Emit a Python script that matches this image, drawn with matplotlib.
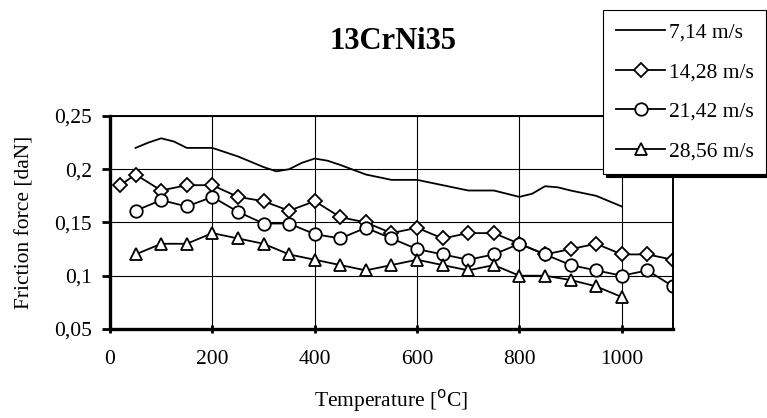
import matplotlib
matplotlib.use('Agg')
import matplotlib.pyplot as plt
from matplotlib.ticker import FuncFormatter

plt.rcParams['font.family'] = ['Liberation Serif', 'DejaVu Serif']

# Datos
temp_1 = [50, 75, 100, 125, 150, 200, 250, 300, 325, 350, 375, 400, 425, 450, 500,
          550, 600, 650, 700, 750, 775, 800, 825, 850, 875, 900, 950, 1000]
fuerza_1 = [0.22, 0.225, 0.229, 0.226, 0.22, 0.22, 0.212, 0.202, 0.198, 0.2, 0.206,
            0.21, 0.208, 0.204, 0.195, 0.19, 0.19, 0.185, 0.18, 0.18, 0.177, 0.174,
            0.177, 0.184, 0.183, 0.18, 0.175, 0.165]

temp_2 = [20, 50, 100, 150, 200, 250, 300, 350, 400, 450, 500, 550, 600, 650, 700,
          750, 800, 850, 900, 950, 1000, 1050, 1100]
fuerza_2 = [0.185, 0.195, 0.18, 0.185, 0.185, 0.174, 0.17, 0.161, 0.17, 0.155, 0.15,
            0.14, 0.145, 0.135, 0.14, 0.14, 0.13, 0.12, 0.125, 0.13, 0.12, 0.12, 0.115]

temp_3 = [50, 100, 150, 200, 250, 300, 350, 400, 450, 500, 550, 600, 650, 700, 750,
          800, 850, 900, 950, 1000, 1050, 1100]
fuerza_3 = [0.161, 0.171, 0.165, 0.174, 0.16, 0.149, 0.149, 0.139, 0.135, 0.145, 0.135,
            0.125, 0.12, 0.115, 0.12, 0.13, 0.12, 0.11, 0.105, 0.1, 0.105, 0.09]

temp_4 = [50, 100, 150, 200, 250, 300, 350, 400, 450, 500, 550, 600, 650, 700, 750,
          800, 850, 900, 950, 1000]
fuerza_4 = [0.12, 0.13, 0.13, 0.14, 0.135, 0.13, 0.12, 0.115, 0.11, 0.105, 0.11, 0.115,
            0.11, 0.105, 0.11, 0.1, 0.1, 0.096, 0.09, 0.08]

etiquetas = ['7,14 m/s', '14,28 m/s', '21,42 m/s', '28,56 m/s']

fig = plt.figure(figsize=(7.67, 4.18), dpi=100)
ax = fig.add_axes([0.1434, 0.213, 0.734, 0.5096])

lw = 1.3
ax.plot(temp_1, fuerza_1, color='black', lw=lw, label=etiquetas[0])
ax.plot(temp_2, fuerza_2, color='black', lw=lw, marker='D', ms=7, mfc='white',
        mec='black', mew=1.3, label=etiquetas[1])
ax.plot(temp_3, fuerza_3, color='black', lw=lw, marker='o', ms=9, mfc='white',
        mec='black', mew=1.3, label=etiquetas[2])
ax.plot(temp_4, fuerza_4, color='black', lw=lw, marker='^', ms=9, mfc='white',
        mec='black', mew=1.3, label=etiquetas[3])

ax.set_xlim(0, 1100)
ax.set_ylim(0.05, 0.25)
ax.set_xticks([0, 200, 400, 600, 800, 1000])
ax.set_yticks([0.05, 0.1, 0.15, 0.2, 0.25])
ax.yaxis.set_major_formatter(FuncFormatter(lambda v, p: f"{v:g}".replace('.', ',')))
ax.grid(True, color='black', lw=0.8)
ax.set_axisbelow(True)

for lado in ['left', 'bottom']:
    ax.spines[lado].set_linewidth(2.4)
for lado in ['top', 'right']:
    ax.spines[lado].set_linewidth(1.4)

ax.tick_params(axis='y', direction='out', length=6, width=2, labelsize=15.5, pad=7)
ax.tick_params(axis='x', direction='inout', length=6, width=2, labelsize=15.5, pad=12)

ax.set_xlabel('Temperature [$^{\\mathrm{o}}$C]', fontsize=15.5, labelpad=13)
ax.set_ylabel('Friction force [daN]', fontsize=15.5, labelpad=14)
fig.text(0.512, 0.9, '13CrNi35', fontsize=22, fontweight='bold', ha='center', va='center')

leg = ax.legend(loc='upper left', bbox_to_anchor=(0.786, 0.976), bbox_transform=fig.transFigure,
                fontsize=15.5, frameon=True, fancybox=False, edgecolor='black',
                shadow={'color': 'black', 'alpha': 1}, handlelength=2.3,
                handletextpad=0.15, labelspacing=0.9, borderpad=0.6, borderaxespad=0)
leg.get_frame().set_linewidth(0.8)

plt.savefig('out.png', dpi=100)
